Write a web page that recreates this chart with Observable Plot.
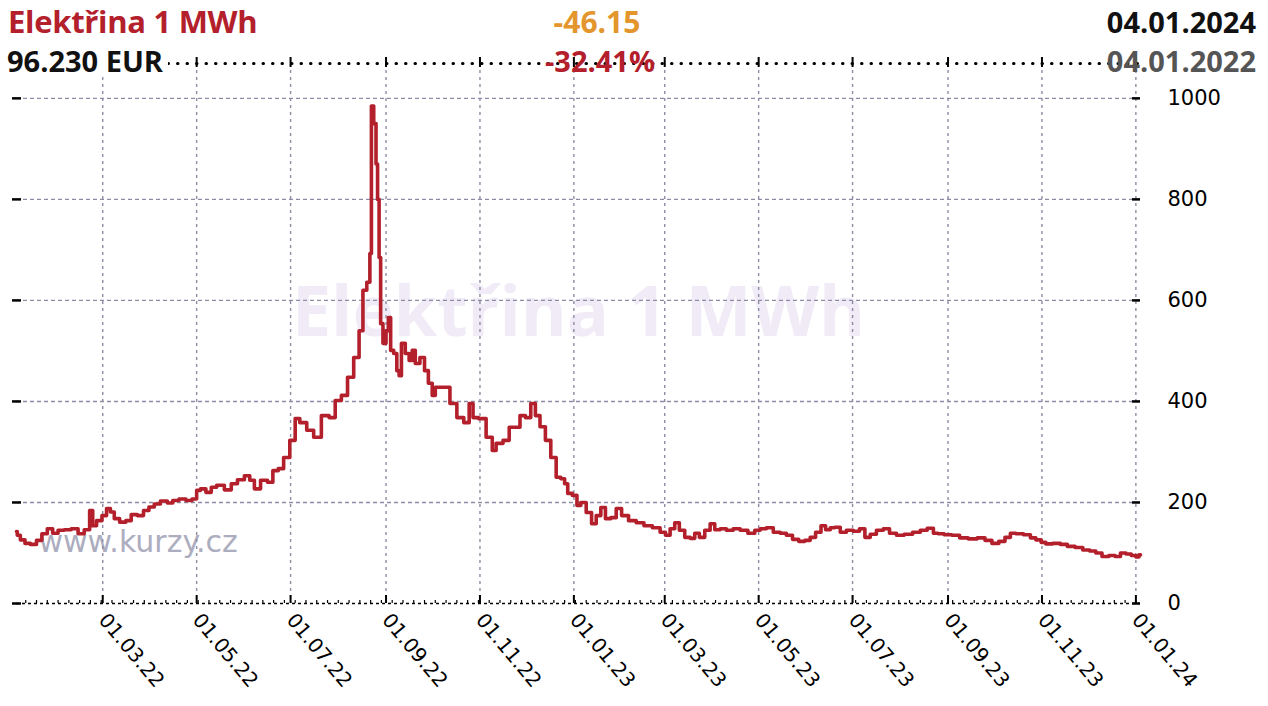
<!DOCTYPE html>
<html><head><meta charset="utf-8">
<script src="https://cdn.jsdelivr.net/npm/d3@7"></script>
<script src="https://cdn.jsdelivr.net/npm/@observablehq/plot@0.6"></script>
<style>
body{margin:0;background:#fff;}
#wrap{position:relative;width:1268px;height:706px;overflow:hidden;background:#fff;}
.h{position:absolute;font-family:"Open Sans",sans-serif;line-height:1;white-space:nowrap;}
</style></head><body>
<div id="wrap"></div>
<script>
const title = "Elektřina 1 MWh";
const lastValueLabel = "96.230 EUR";
const changeAbs = "-46.15";
const changePct = "-32.41%";
const endDateLabel = "04.01.2024";
const startDateLabel = "04.01.2022";
const siteLabel = "www.kurzy.cz";

const dates = [
"2022-01-04","2022-01-05","2022-01-08","2022-01-11","2022-01-15","2022-01-19","2022-01-22","2022-01-26","2022-01-29",
"2022-02-02","2022-02-06","2022-02-11","2022-02-15","2022-02-19","2022-02-22","2022-02-23","2022-02-27",
"2022-03-02","2022-03-05","2022-03-07","2022-03-10","2022-03-14","2022-03-18","2022-03-21","2022-03-26","2022-03-29",
"2022-04-02","2022-04-05","2022-04-10","2022-04-14","2022-04-17","2022-04-22","2022-04-26","2022-04-30",
"2022-05-02","2022-05-05","2022-05-09","2022-05-12","2022-05-16","2022-05-22","2022-05-25","2022-05-30",
"2022-06-03","2022-06-06","2022-06-09","2022-06-14","2022-06-18","2022-06-21","2022-06-25","2022-06-28",
"2022-07-03","2022-07-05","2022-07-09","2022-07-14","2022-07-18","2022-07-24","2022-07-28",
"2022-08-01","2022-08-05","2022-08-09","2022-08-13","2022-08-16","2022-08-18","2022-08-21","2022-08-22","2022-08-23",
"2022-08-25","2022-08-26","2022-08-27","2022-08-28","2022-08-29","2022-08-31",
"2022-09-02","2022-09-03","2022-09-05","2022-09-07","2022-09-09","2022-09-10","2022-09-12","2022-09-15","2022-09-17",
"2022-09-19","2022-09-21","2022-09-25","2022-09-27","2022-09-30",
"2022-10-02","2022-10-04","2022-10-10","2022-10-15","2022-10-19","2022-10-24","2022-10-26","2022-10-29",
"2022-11-02","2022-11-08","2022-11-10","2022-11-13","2022-11-19","2022-11-21","2022-11-25","2022-11-29",
"2022-12-02","2022-12-06","2022-12-08","2022-12-12","2022-12-15","2022-12-19","2022-12-22","2022-12-25","2022-12-27","2022-12-29",
"2023-01-02","2023-01-04","2023-01-07","2023-01-11","2023-01-14","2023-01-17","2023-01-20","2023-01-23","2023-01-27","2023-01-30",
"2023-02-03","2023-02-08","2023-02-13","2023-02-18","2023-02-24","2023-02-28",
"2023-03-03","2023-03-06","2023-03-09","2023-03-12","2023-03-16","2023-03-19","2023-03-22","2023-03-25","2023-03-29",
"2023-04-01","2023-04-04","2023-04-08","2023-04-12","2023-04-17","2023-04-21","2023-04-27","2023-04-30",
"2023-05-04","2023-05-08","2023-05-13","2023-05-17","2023-05-21","2023-05-25","2023-05-29",
"2023-06-02","2023-06-05","2023-06-09","2023-06-12","2023-06-15","2023-06-18","2023-06-21","2023-06-25","2023-06-29",
"2023-07-04","2023-07-07","2023-07-11","2023-07-14","2023-07-19","2023-07-23","2023-07-27",
"2023-08-01","2023-08-06","2023-08-12","2023-08-16","2023-08-21","2023-08-24","2023-08-27",
"2023-09-01","2023-09-06","2023-09-11","2023-09-17","2023-09-23","2023-09-27",
"2023-10-02","2023-10-06","2023-10-10","2023-10-13","2023-10-17","2023-10-23","2023-10-26","2023-10-30",
"2023-11-02","2023-11-05","2023-11-11","2023-11-15","2023-11-20","2023-11-25","2023-11-30",
"2023-12-04","2023-12-08","2023-12-12","2023-12-17","2023-12-20","2023-12-24","2023-12-27","2023-12-31",
"2024-01-02","2024-01-04"
];
const prices = [
142.4,135,126,119,117,125,138,148,139,
145,146,148,138,146,184,154,164,
174,188,181,168,161,164,176,174,184,
191,197,203,199,204,207,204,207,
224,227,220,230,234,225,237,245,
253,244,227,244,240,263,267,289,
323,366,358,343,329,372,368,
402,412,448,487,540,620,636,693,985,
950,870,800,685,554,515,
540,566,501,495,461,451,515,495,481,
501,475,487,461,436,
412,428,428,396,368,358,396,368,
366,329,303,317,323,349,349,372,
368,396,372,350,323,289,250,247,237,218,
214,194,200,180,158,174,190,168,170,188,
174,164,160,154,150,141,
135,148,160,145,131,129,139,131,145,
158,146,148,145,148,145,139,145,
148,150,141,139,135,127,123,
125,131,141,154,146,150,151,141,145,
143,148,131,137,145,148,139,
135,137,141,145,149,139,138,
136,135,130,128,130,125,
119,123,131,139,138,136,130,126,
121,118,119,117,113,111,106,
104,100,93,95,93,100,98,95,
92,96.23
];

const xTickDates = ["2022-03-01","2022-05-01","2022-07-01","2022-09-01","2022-11-01","2023-01-01",
  "2023-03-01","2023-05-01","2023-07-01","2023-09-01","2023-11-01","2024-01-01"];
const yTicks = [0, 200, 400, 600, 800, 1000];
const xDomain = ["2022-01-04", "2024-01-04"];
const yDomain = [0, 1069];

const parse = d3.utcParse("%Y-%m-%d");
const data = dates.map((d, i) => ({date: parse(d), price: prices[i]}));
const xt = xTickDates.map(parse);
const xStart = parse(xDomain[0]), xEnd = parse(xDomain[1]);
const fmt = d3.utcFormat("%d.%m.%y");
const weeks = d3.utcMonday.range(xStart, xEnd);

const grid = "#8c8ca4";
const red = "#b3202c";

const chart = Plot.plot({
  width: 1268, height: 706,
  marginTop: 63, marginBottom: 103, marginLeft: 16, marginRight: 128,
  style: {fontFamily: "DejaVu Sans", background: "white", color: "black", overflow: "visible"},
  x: {type: "utc", domain: [xStart, xEnd], label: null},
  y: {domain: yDomain, label: null},
  marks: [
    Plot.text([title], {frameAnchor: "middle", dy: -20, fontSize: 70, fontWeight: "bold", fill: "#f0ebf6", fontFamily: "Open Sans"}),
    Plot.text([siteLabel], {frameAnchor: "bottom-left", dx: 22, dy: -52, textAnchor: "start", fontSize: 30, fill: "#adadc0"}),
    Plot.ruleX(xt, {stroke: grid, strokeWidth: 1.4, strokeDasharray: "3,4"}),
    Plot.ruleY(yTicks.filter(v => v > 0), {stroke: grid, strokeWidth: 1.4, strokeDasharray: "4,3"}),
    Plot.ruleY([yDomain[1]], {stroke: "black", strokeWidth: 3, strokeDasharray: "0.5,9", strokeLinecap: "round"}),
    Plot.ruleX(xt, {y1: yDomain[1], y2: yDomain[1], insetTop: -6, insetBottom: -4, stroke: "black", strokeWidth: 2}),
    Plot.ruleY([0], {stroke: "black", strokeWidth: 1.5, strokeDasharray: "3,3"}),
    Plot.ruleX(weeks, {y1: 0, y2: 0, insetTop: -3, stroke: "black", strokeWidth: 1.2}),
    Plot.ruleX(xt, {y1: 0, y2: 0, insetTop: -8, stroke: "black", strokeWidth: 2}),
    Plot.ruleY(yTicks, {x1: () => xStart, x2: () => xStart, insetLeft: -4, insetRight: -5, stroke: "black", strokeWidth: 2.5}),
    Plot.ruleY(yTicks, {x1: () => xEnd, x2: () => xEnd, insetLeft: -8, stroke: "black", strokeWidth: 2.5}),
    Plot.line(data, {x: "date", y: "price", stroke: red, strokeWidth: 3.6, curve: "step", strokeLinejoin: "round"}),
    Plot.axisX({anchor: "bottom", ticks: xt, tickFormat: fmt, tickRotate: 50, tickSize: 0, tickPadding: 13, fontSize: 20, label: null}),
    Plot.axisY({anchor: "right", ticks: yTicks, tickFormat: d => String(d), tickSize: 0, tickPadding: 27, fontSize: 21, label: null})
  ]
});

const wrap = document.getElementById("wrap");
wrap.appendChild(chart);

function head(text, css) {
  const d = document.createElement("div");
  d.className = "h";
  d.textContent = text;
  Object.assign(d.style, css);
  wrap.appendChild(d);
}
head(title, {left: "8px", top: "6px", fontSize: "31px", fontWeight: "700", color: red, letterSpacing: "-0.3px"});
head(lastValueLabel, {left: "7px", top: "46px", fontSize: "29px", fontWeight: "700", color: "#111", background: "#fff", paddingRight: "5px"});
head(changeAbs, {left: "597px", top: "7px", fontSize: "30px", fontWeight: "700", color: "#e3962c", transform: "translateX(-50%)"});
head(changePct, {left: "600px", top: "46px", fontSize: "29px", fontWeight: "700", color: red, transform: "translateX(-50%)"});
head(endDateLabel, {right: "12px", top: "7px", fontSize: "29px", fontWeight: "700", color: "#111"});
head(startDateLabel, {right: "12px", top: "46px", fontSize: "29px", fontWeight: "700", color: "#555"});
</script>
</body></html>
